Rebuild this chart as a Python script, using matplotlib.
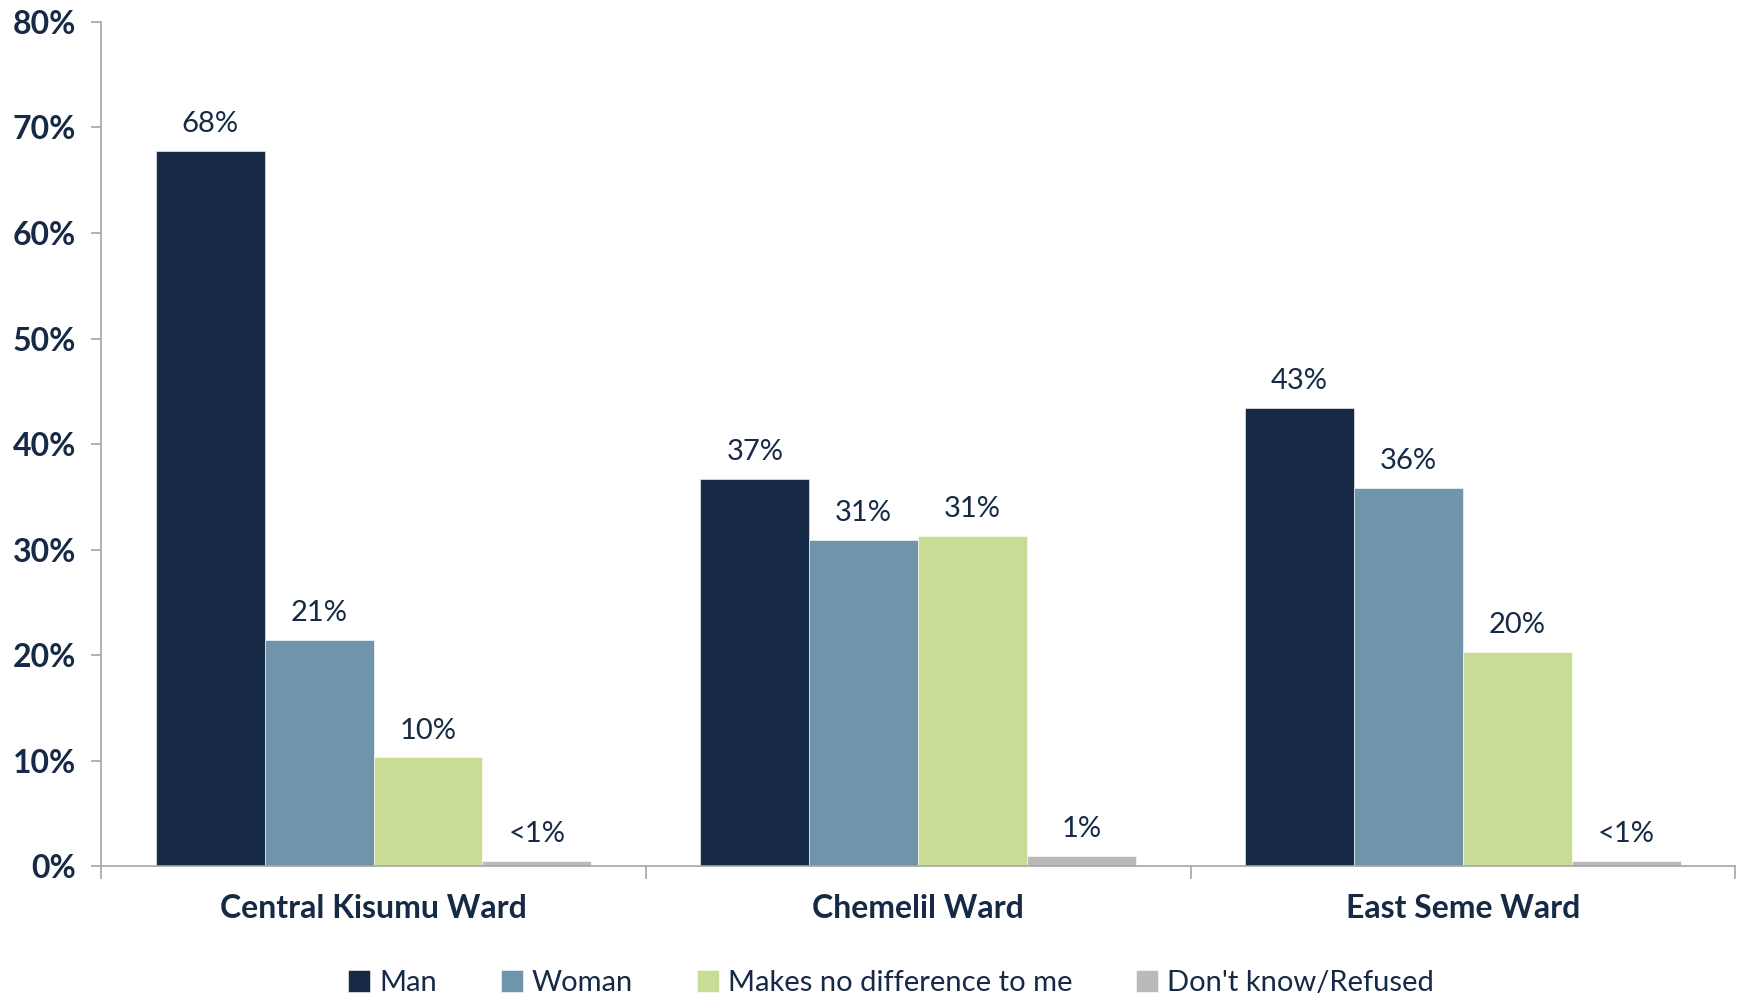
import numpy as np
import matplotlib
matplotlib.use("Agg")
import matplotlib.pyplot as plt
from matplotlib.ticker import FuncFormatter

plt.rcParams['font.family'] = ['Lato', 'DejaVu Sans']

# datos
wards = ["Central Kisumu Ward", "Chemelil Ward", "East Seme Ward"]
series = ["Man", "Woman", "Makes no difference to me", "Don't know/Refused"]
man = [67.8, 36.7, 43.4]
woman = [21.4, 30.9, 35.8]
no_diff = [10.3, 31.3, 20.3]
dont_know = [0.5, 1.0, 0.5]
labels_man = ["68%", "37%", "43%"]
labels_woman = ["21%", "31%", "36%"]
labels_nodiff = ["10%", "31%", "20%"]
labels_dk = ["<1%", "1%", "<1%"]

colores = ["#162A45", "#7094AA", "#C9DC96", "#BABABB"]
texto = "#162A45"
gris = "#A6A6A6"

valores = [man, woman, no_diff, dont_know]
etiquetas = [labels_man, labels_woman, labels_nodiff, labels_dk]

fig = plt.figure(figsize=(17.44, 9.99), dpi=100)
ax = fig.add_axes([0.058, 0.133, 0.937, 0.845])

x = np.arange(len(wards))
w = 0.2
for i in range(4):
    pos = x - 0.3 + i * w
    barras = ax.bar(pos, valores[i], width=w, color=colores[i], label=series[i],
                    edgecolor="white", linewidth=0.4)
    for b, lab in zip(barras, etiquetas[i]):
        ax.annotate(lab, (b.get_x() + b.get_width() / 2, b.get_height()),
                    xytext=(0, 10), textcoords="offset points",
                    ha="center", va="bottom", fontsize=21, color=texto)

ax.set_xlim(-0.5, 2.5)
ax.set_ylim(0, 80)
ax.set_yticks(np.arange(0, 81, 10))
ax.yaxis.set_major_formatter(FuncFormatter(lambda v, p: f"{v:.0f}%"))
for t in ax.get_yticklabels():
    t.set_fontweight("bold")
ax.tick_params(axis="y", labelsize=23, colors=gris, labelcolor=texto,
               length=7, width=1.2, pad=11)

ax.set_xticks([-0.5, 0.5, 1.5, 2.5])
ax.set_xticklabels([])
ax.tick_params(axis="x", which="major", length=9, width=1.2, colors=gris)
ax.set_xticks(x, minor=True)
ax.set_xticklabels(wards, minor=True, fontsize=23, fontweight="bold", color=texto)
ax.tick_params(axis="x", which="minor", length=0, pad=20)

for s in ["top", "right"]:
    ax.spines[s].set_visible(False)
for s in ["left", "bottom"]:
    ax.spines[s].set_color(gris)
    ax.spines[s].set_linewidth(1.2)

leg = fig.legend(loc="center", bbox_to_anchor=(0.511, 0.016), ncol=4, frameon=False,
                 fontsize=21, handlelength=0.75, handleheight=0.75, handletextpad=0.3,
                 columnspacing=2.2, labelcolor=texto)

fig.savefig("out.png", dpi=100)
